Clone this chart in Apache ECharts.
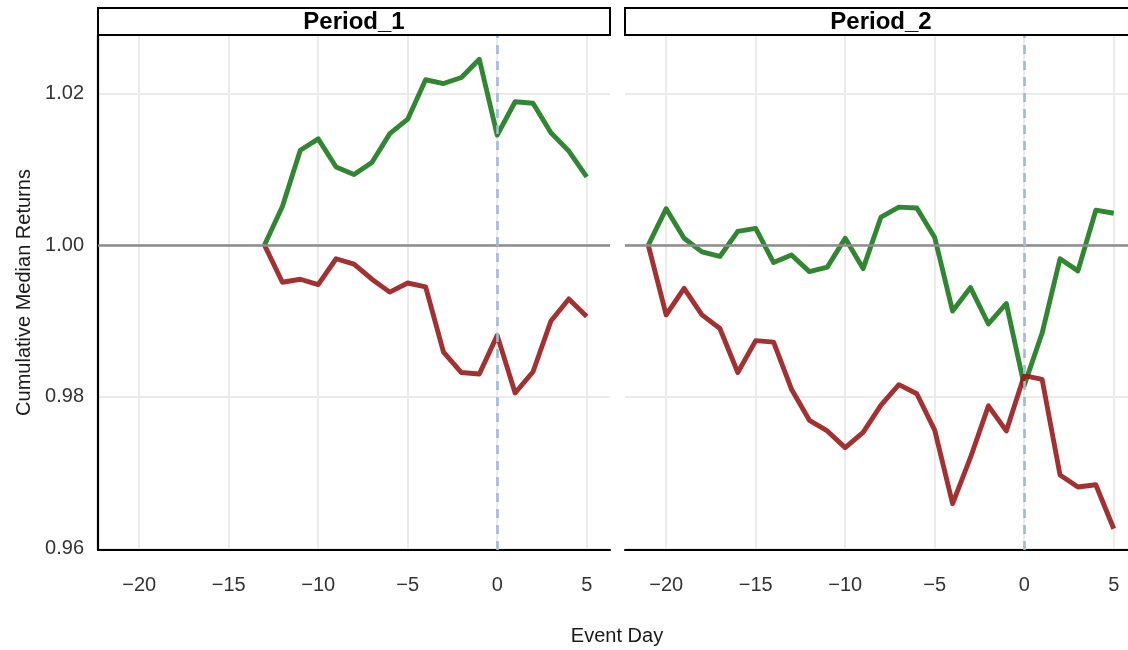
<!DOCTYPE html>
<html>
<head>
<meta charset="utf-8">
<title>Cumulative Median Returns</title>
<script src="https://cdn.jsdelivr.net/npm/echarts@6/dist/echarts.min.js"></script>
<style>
  html, body { margin: 0; padding: 0; background: #fff; }
  #chart { width: 1128px; height: 650px; }
</style>
</head>
<body>
<div id="chart"></div>
<script>
// Panel titles
const panels = ['Period_1', 'Period_2'];

// Event days per panel
const days1 = [-13, -12, -11, -10, -9, -8, -7, -6, -5, -4, -3, -2, -1, 0, 1, 2, 3, 4, 5];
const days2 = [-21, -20, -19, -18, -17, -16, -15, -14, -13, -12, -11, -10, -9, -8, -7, -6, -5, -4, -3, -2, -1, 0, 1, 2, 3, 4, 5];

// Cumulative median returns, Period_1
const up1 = [1.0000, 1.0051, 1.0125, 1.0140, 1.0103, 1.0093, 1.0109, 1.0147, 1.0166, 1.0218,
             1.0213, 1.0221, 1.0245, 1.0145, 1.0189, 1.0187, 1.0148, 1.0124, 1.0090];
const down1 = [1.0000, 0.9951, 0.9955, 0.9948, 0.9982, 0.9975, 0.9955, 0.9938, 0.9950, 0.9945,
               0.9859, 0.9832, 0.9830, 0.9881, 0.9805, 0.9833, 0.9900, 0.9929, 0.9906];

// Cumulative median returns, Period_2
const up2 = [1.0000, 1.0048, 1.0009, 0.9991, 0.9985, 1.0018, 1.0022, 0.9977, 0.9987, 0.9965,
             0.9971, 1.0009, 0.9969, 1.0037, 1.0050, 1.0049, 1.0010, 0.9913, 0.9944, 0.9896,
             0.9923, 0.9815, 0.9884, 0.9982, 0.9966, 1.0046, 1.0042];
const down2 = [1.0000, 0.9908, 0.9943, 0.9908, 0.9890, 0.9832, 0.9874, 0.9872, 0.9810, 0.9769,
               0.9755, 0.9733, 0.9753, 0.9789, 0.9816, 0.9804, 0.9756, 0.9659, 0.9720, 0.9788,
               0.9755, 0.9828, 0.9823, 0.9697, 0.9681, 0.9684, 0.9626];

// Axis ticks
const xTicks = [-20, -15, -10, -5, 0, 5];
const yTicks = [0.96, 0.98, 1.00, 1.02];
const baseline = 1.0;
const eventDay = 0;

const FONT = '"Liberation Sans", Arial, Helvetica, sans-serif';
const GREEN = '#1b7a1b';
const RED = '#991b1b';

const pairs = (xs, ys) => xs.map((x, i) => [x, ys[i]]);
const fmtX = v => (v < 0 ? '\u2212' + Math.abs(v) : String(v));

const grids = [
  { left: 98, right: 518, top: 35, bottom: 100, outerBoundsMode: 'none', containLabel: false },
  { left: 625, right: -9, top: 35, bottom: 100, outerBoundsMode: 'none', containLabel: false }
];

function xAxis(gi) {
  return {
    type: 'value', gridIndex: gi, min: -22.3, max: 6.3,
    axisLine: { show: true, onZero: false, lineStyle: { color: '#000', width: 2.2 } },
    axisTick: { show: false, customValues: xTicks },
    axisLabel: {
      customValues: xTicks, formatter: fmtX, margin: 25,
      color: '#333', fontSize: 20, fontFamily: FONT
    },
    splitLine: { show: true, lineStyle: { color: '#ebebeb', width: 2 } }
  };
}

function yAxis(gi) {
  const a = {
    type: 'value', gridIndex: gi, min: 0.9598, max: 1.0277,
    axisLine: { show: gi === 0, onZero: false, lineStyle: { color: '#000', width: 2.2 } },
    axisTick: { show: false, customValues: yTicks },
    axisLabel: {
      show: gi === 0, customValues: yTicks, margin: 14,
      formatter: v => v.toFixed(2),
      color: '#333', fontSize: 20, fontFamily: FONT
    },
    splitLine: { show: true, lineStyle: { color: '#ebebeb', width: 2 } }
  };
  if (gi === 0) {
    a.name = 'Cumulative Median Returns';
    a.nameLocation = 'middle';
    a.nameGap = 64;
    a.nameTextStyle = { color: '#1a1a1a', fontSize: 20, fontFamily: FONT };
  }
  return a;
}

function guideSeries(gi) {
  return [
    {
      // horizontal reference at the starting level
      type: 'line', xAxisIndex: gi, yAxisIndex: gi, data: [], silent: true, z: 1,
      markLine: {
        silent: true, symbol: 'none', label: { show: false },
        lineStyle: { color: '#8c8c8c', width: 2.5, type: 'solid' },
        data: [{ yAxis: baseline }]
      }
    },
    {
      // event day marker, drawn above the lines
      type: 'line', xAxisIndex: gi, yAxisIndex: gi, data: [], silent: true, z: 10,
      markLine: {
        silent: true, symbol: 'none', label: { show: false },
        lineStyle: { color: '#9ebcd8', width: 2.6, type: [9, 7], opacity: 1 },
        data: [{ xAxis: eventDay }]
      }
    }
  ];
}

function lineSeries(gi, xs, ys, color, z) {
  return {
    type: 'line', xAxisIndex: gi, yAxisIndex: gi, z: z,
    data: pairs(xs, ys), showSymbol: false, symbol: 'none',
    lineStyle: { color: color, width: 4.9, opacity: 0.9, join: 'round', cap: 'butt' },
    itemStyle: { color: color }, animation: false
  };
}

function strip(gi, label) {
  const left = grids[gi].left;
  const w = gi === 0 ? 512 : 530;
  return [
    {
      type: 'rect', shape: { x: left, y: 8, width: w, height: 27 },
      style: { fill: '#fff', stroke: '#000', lineWidth: 2 }, z: 100
    },
    {
      type: 'text', x: left + 256, y: 22, z: 101,
      style: {
        text: label, fill: '#000', textAlign: 'center', textVerticalAlign: 'middle',
        font: 'bold 24px ' + FONT
      }
    }
  ];
}

const chart = echarts.init(document.getElementById('chart'), null, { renderer: 'canvas' });
chart.setOption({
  animation: false,
  backgroundColor: '#fff',
  grid: grids,
  xAxis: [xAxis(0), xAxis(1)],
  yAxis: [yAxis(0), yAxis(1)],
  series: [
    ...guideSeries(0),
    ...guideSeries(1),
    lineSeries(0, days1, up1, GREEN, 3),
    lineSeries(0, days1, down1, RED, 4),
    lineSeries(1, days2, up2, GREEN, 3),
    lineSeries(1, days2, down2, RED, 4)
  ],
  graphic: [
    ...strip(0, panels[0]),
    ...strip(1, panels[1]),
    {
      type: 'text', x: 617, y: 636,
      style: {
        text: 'Event Day', fill: '#1a1a1a', textAlign: 'center', textVerticalAlign: 'middle',
        font: '20px ' + FONT
      }
    }
  ]
});
</script>
</body>
</html>
